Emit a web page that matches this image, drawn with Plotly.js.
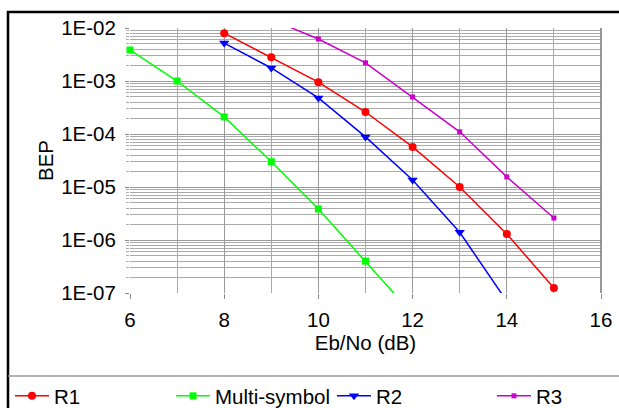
<!DOCTYPE html>
<html>
<head>
<meta charset="utf-8">
<script src="https://cdn.plot.ly/plotly-3.0.1.min.js"></script>
<style>
html,body{margin:0;padding:0;background:#fff;}
#chart{width:619px;height:408px;}
</style>
</head>
<body>
<div id="chart"></div>
<script>
// Data
const r1X = [8, 9, 10, 11, 12, 13, 14, 15];
const r1Y = [8.0e-3, 2.8e-3, 9.5e-4, 2.6e-4, 5.7e-5, 1.0e-5, 1.3e-6, 1.24e-7];
const msX = [6, 7, 8, 9, 10, 11, 12];
const msY = [3.85e-3, 1.0e-3, 2.1e-4, 3.0e-5, 3.85e-6, 4.0e-7, 4.0e-8];
const r2X = [8, 9, 10, 11, 12, 13, 14];
const r2Y = [5.2e-3, 1.76e-3, 4.8e-4, 8.8e-5, 1.36e-5, 1.4e-6, 7.0e-8];
const r3X = [9, 10, 11, 12, 13, 14, 15];
const r3Y = [1.45e-2, 6.2e-3, 2.2e-3, 5.0e-4, 1.1e-4, 1.55e-5, 2.6e-6];
const yTickVals = [1e-2, 1e-3, 1e-4, 1e-5, 1e-6, 1e-7];
const yTickText = ["1E-02", "1E-03", "1E-04", "1E-05", "1E-06", "1E-07"];
const xTickVals = [6, 8, 10, 12, 14, 16];

const W = 619, H = 408;
const L = 130, R = 601, T = 28, B = 293;
const px = x => (x - L) / (R - L);
const py = y => (B - y) / (B - T);

const FS = 20.5;
const font = {family: "Liberation Sans, Arial, sans-serif", color: "#000"};
const f = s => Object.assign({size: s}, font);

function tr(name, x, y, color, symbol, size, legend) {
  return {
    type: "scatter", mode: "lines+markers", name: name, x: x, y: y,
    line: {color: color, width: 1.5},
    marker: {color: color, symbol: symbol, size: size},
    cliponaxis: false, legend: legend
  };
}

const data = [
  tr("R1", r1X, r1Y, "#ff0000", "circle", 8, "legend"),
  tr("Multi-symbol", msX, msY, "#00ff00", "square", 7, "legend"),
  tr("R2", r2X, r2Y, "#0000ff", "triangle-down", 9, "legend"),
  tr("R3", r3X, r3Y, "#cc00cc", "square", 5, "legend2")
];

const legendBase = {
  orientation: "h", xref: "paper", yref: "paper",
  yanchor: "middle", xanchor: "left",
  entrywidth: 112, entrywidthmode: "pixels",
  font: f(FS), bgcolor: "rgba(0,0,0,0)", itemwidth: 34, borderwidth: 0
};

const layout = {
  width: W, height: H,
  margin: {l: L, r: W - R, t: T, b: H - B, pad: 0, autoexpand: false},
  paper_bgcolor: "#fff", plot_bgcolor: "#fff",
  font: f(FS),
  showlegend: true,
  xaxis: {
    range: [6, 16], tickvals: xTickVals,
    ticks: "outside", ticklen: 5, tickcolor: "#888",
    showgrid: true, gridcolor: "#999", gridwidth: 1,
    minor: {dtick: 1, showgrid: true, gridcolor: "#aaa", ticks: ""},
    zeroline: false, showline: false,
    tickfont: f(FS), ticklabelstandoff: 3,
    title: {text: "Eb/No (dB)", font: f(FS), standoff: 4}
  },
  yaxis: {
    type: "log", range: [-7, -2],
    tickvals: yTickVals, ticktext: yTickText,
    ticks: "outside", ticklen: 4, tickcolor: "#888",
    showgrid: true, gridcolor: "#999", gridwidth: 1,
    minor: {dtick: "D1", showgrid: true, gridcolor: "#aaa", ticks: "outside", ticklen: 3, tickcolor: "#aaa"},
    zeroline: false, showline: false,
    tickfont: f(FS), ticklabelstandoff: 5,
    title: {text: "BEP", font: f(FS), standoff: 2}
  },
  legend: Object.assign({}, legendBase, {x: px(10), y: py(396)}),
  legend2: Object.assign({}, legendBase, {x: px(492), y: py(396), entrywidth: 60}),
  shapes: [
    {type: "rect", xref: "paper", yref: "paper", x0: px(8), x1: px(700), y0: py(12), y1: py(600),
     line: {color: "#000", width: 2.5}, fillcolor: "rgba(0,0,0,0)", layer: "below"},
    {type: "line", xref: "paper", yref: "paper", x0: px(8), x1: px(619), y0: py(376), y1: py(376),
     line: {color: "#999", width: 1.5}},
    {type: "line", xref: "paper", yref: "paper", x0: 1, x1: 1, y0: 0, y1: 1,
     line: {color: "#777", width: 1.5}}
  ]
};

Plotly.newPlot("chart", data, layout, {displayModeBar: false, staticPlot: true});
</script>
</body>
</html>
